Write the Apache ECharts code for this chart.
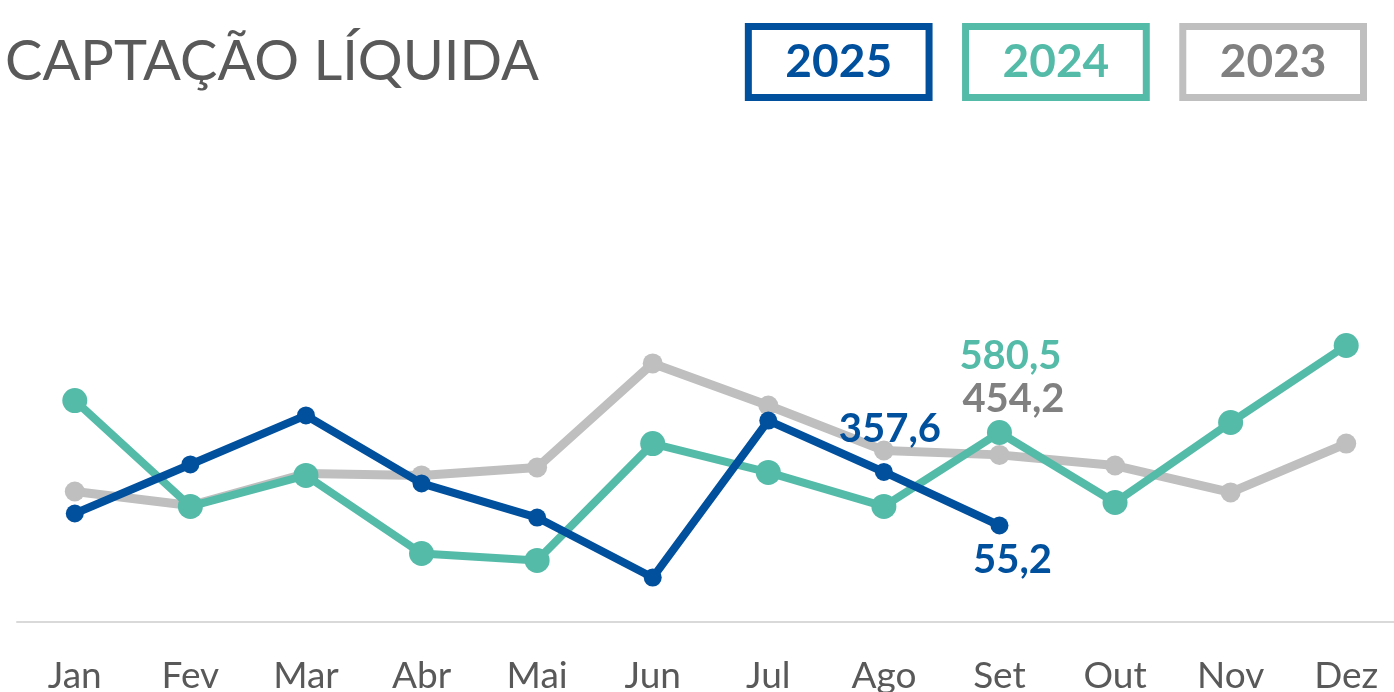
<!DOCTYPE html>
<html>
<head>
<meta charset="utf-8">
<style>
  html, body { margin: 0; padding: 0; background: #fff; }
  #chart { width: 1394px; height: 692px; }
</style>
<script src="https://cdn.jsdelivr.net/npm/echarts@6/dist/echarts.min.js"></script>
</head>
<body>
<div id="chart"></div>
<script>
const months = ['Jan', 'Fev', 'Mar', 'Abr', 'Mai', 'Jun', 'Jul', 'Ago', 'Set', 'Out', 'Nov', 'Dez'];
const values2025 = [123, 400, 677, 293, 100, -239, 648, 357.6, 55.2];
const values2024 = [761, 163, 338, -103, -142, 518, 355, 163, 580.5, 185, 637, 1072];
const values2023 = [247, 168, 349, 338, 383, 971, 733, 479, 454.2, 394, 242, 518];

const BLUE = '#00509e';
const TEAL = '#55bba9';
const GRAY = '#bfbfbf';
const FONT = 'Lato, "Noto Sans", sans-serif';

const fmt = (v) => v.toFixed(1).replace('.', ',');

// which points get a value label, and how it sits
const labelled = {
    '2025': { 7: { position: 'top', distance: 14, offset: [6, 0] }, 8: { position: 'bottom', distance: 6, offset: [13, 0] } },
    '2024': { 8: { position: 'top', distance: 44, offset: [11, 0] } },
    '2023': { 8: { position: 'top', distance: 26, offset: [14, 0] } }
};

const buildData = (name, values, color) =>
    values.map((v, i) => {
        const l = labelled[name][i];
        if (!l) return v;
        return {
            value: v,
            label: {
                show: true,
                position: l.position,
                distance: l.distance,
                offset: l.offset,
                formatter: () => fmt(v),
                color: color,
                fontFamily: FONT,
                fontWeight: 'bold',
                fontSize: 40
            }
        };
    });

const myChart = echarts.init(document.getElementById('chart'));

const legendItem = (name, color, textColor) => ({
    name: name,
    textStyle: { color: textColor, borderColor: color }
});

const option = {
    animation: false,
    title: {
        text: 'CAPTAÇÃO LÍQUIDA',
        left: 0,
        top: 29,
        textStyle: { fontFamily: FONT, fontWeight: 'normal', fontSize: 56, color: '#595959' }
    },
    legend: {
        top: 18,
        right: 22,
        itemWidth: 0,
        itemHeight: 0,
        itemGap: 27,
        selectedMode: false,
        data: [legendItem('2025', BLUE, BLUE), legendItem('2024', TEAL, TEAL), legendItem('2023', GRAY, '#808080')],
        textStyle: {
            fontFamily: FONT,
            fontWeight: 'bold',
            fontSize: 46,
            borderWidth: 7,
            lineHeight: 53,
            padding: [11, 37, 7, 37]
        }
    },
    grid: { left: 17, width: 1387, top: 268, bottom: 70, outerBoundsMode: 'none', containLabel: false },
    xAxis: {
        type: 'category',
        data: months,
        boundaryGap: true,
        axisLine: { onZero: false, lineStyle: { color: '#d9d9d9', width: 2 } },
        axisTick: { show: false },
        axisLabel: { color: '#595959', fontFamily: FONT, fontSize: 37, margin: 36 }
    },
    yAxis: {
        type: 'value',
        min: -490,
        max: 1510,
        show: false,
        splitLine: { show: false }
    },
    series: [
        {
            name: '2023',
            type: 'line',
            data: buildData('2023', values2023, '#808080'),
            symbol: 'circle',
            symbolSize: 20,
            lineStyle: { width: 9, color: GRAY },
            itemStyle: { color: GRAY },
            z: 1
        },
        {
            name: '2024',
            type: 'line',
            data: buildData('2024', values2024, TEAL),
            symbol: 'circle',
            symbolSize: 25,
            lineStyle: { width: 8, color: TEAL },
            itemStyle: { color: TEAL },
            z: 2
        },
        {
            name: '2025',
            type: 'line',
            data: buildData('2025', values2025, BLUE),
            symbol: 'circle',
            symbolSize: 18,
            lineStyle: { width: 8, color: BLUE },
            itemStyle: { color: BLUE },
            z: 3
        }
    ]
};

myChart.setOption(option);
</script>
</body>
</html>
